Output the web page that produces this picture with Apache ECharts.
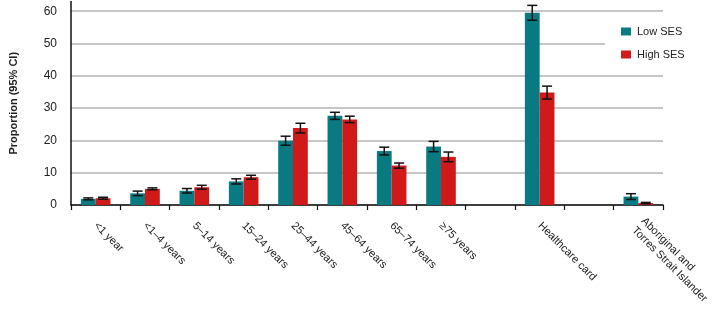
<!DOCTYPE html>
<html>
<head>
<meta charset="utf-8">
<script src="https://cdn.jsdelivr.net/npm/echarts@6/dist/echarts.min.js"></script>
<style>html,body{margin:0;padding:0;background:#fff;}#c{width:726px;height:319px;}</style>
</head>
<body>
<div id="c"></div>
<script>
const categories = ['<1 year', '<1\u20134 years', '5\u201314 years', '15\u201324 years', '25\u201344 years', '45\u201364 years', '65\u201374 years', '\u226575 years', '', 'Healthcare card', '', 'Aboriginal and\nTorres Strait Islander'];
const lowSES  = [1.9, 3.6, 4.4, 7.3, 19.9, 27.6, 16.7, 18.1, null, 59.5, null, 2.6];
const highSES = [2.1, 5.0, 5.5, 8.6, 23.8, 26.5, 12.2, 14.9, null, 34.8, null, 0.6];
const lowErr  = [0.3, 0.7, 0.7, 0.8, 1.4, 1.1, 1.2, 1.6, null, 2.3, null, 0.9];
const highErr = [0.3, 0.3, 0.6, 0.6, 1.5, 1.0, 0.8, 1.5, null, 2.0, null, 0.2];
const yTicks = { min: 0, max: 63, interval: 10 };

const FONT = '"Liberation Sans", Arial, sans-serif';
const TEAL = '#0a7a82';
const RED = '#d01a1a';

function errData(vals, errs) {
  const out = [];
  vals.forEach((v, i) => { if (v != null) out.push([i, v, errs[i]]); });
  return out;
}
function errRender(side) {
  return function (params, api) {
    const xi = api.value(0), v = api.value(1), e = api.value(2);
    const bw = api.size([1, 0])[0];
    const off = side * bw * 0.15;
    const lo = api.coord([xi, v - e]);
    const hi = api.coord([xi, v + e]);
    const x = lo[0] + off;
    const cap = 5;
    const style = { stroke: '#111', lineWidth: 1.5, fill: null };
    return {
      type: 'group',
      children: [
        { type: 'line', shape: { x1: x, y1: lo[1], x2: x, y2: hi[1] }, style },
        { type: 'line', shape: { x1: x - cap, y1: lo[1], x2: x + cap, y2: lo[1] }, style },
        { type: 'line', shape: { x1: x - cap, y1: hi[1], x2: x + cap, y2: hi[1] }, style }
      ]
    };
  };
}

const chart = echarts.init(document.getElementById('c'), null, { renderer: 'canvas' });
chart.setOption({
  animation: false,
  backgroundColor: '#fff',
  textStyle: { fontFamily: FONT },
  grid: { left: 71, right: 63, top: 1.5, bottom: 114 },
  legend: {
    data: ['Low SES', 'High SES'],
    orient: 'vertical',
    left: 605, top: 20,
    padding: [6, 12, 6, 16],
    backgroundColor: '#fff',
    itemWidth: 10, itemHeight: 8, itemGap: 12,
    textStyle: { fontFamily: FONT, fontSize: 11, color: '#222', padding: [0, 0, 0, 1] },
    icon: 'rect'
  },
  xAxis: {
    type: 'category',
    data: categories,
    axisLine: { lineStyle: { color: '#111', width: 1.5 } },
    axisTick: { show: true, length: 5, lineStyle: { color: '#111', width: 1.2 } },
    axisLabel: { interval: 0, rotate: -45, fontFamily: FONT, fontSize: 11, color: '#222', margin: 19, lineHeight: 13 }
  },
  yAxis: {
    type: 'value',
    min: yTicks.min, max: yTicks.max, interval: yTicks.interval,
    name: 'Proportion (95% CI)',
    nameLocation: 'middle',
    nameGap: 52,
    nameTextStyle: { fontFamily: FONT, fontSize: 11, fontWeight: 'bold', color: '#222' },
    axisLine: { show: true, lineStyle: { color: '#111', width: 1.5 } },
    axisTick: { show: false },
    axisLabel: { fontFamily: FONT, fontSize: 12, color: '#222', margin: 14, showMaxLabel: false },
    splitLine: { show: true, showMaxLine: false, lineStyle: { color: '#b4b4b4', width: 1.5 } }
  },
  series: [
    { name: 'Low SES', type: 'bar', data: lowSES, barWidth: '30%', barGap: '0%', itemStyle: { color: TEAL } },
    { name: 'High SES', type: 'bar', data: highSES, barWidth: '30%', barGap: '0%', itemStyle: { color: RED } },
    { name: 'errLow', type: 'custom', data: errData(lowSES, lowErr), renderItem: errRender(-1), encode: { x: 0, y: 1 }, z: 5 },
    { name: 'errHigh', type: 'custom', data: errData(highSES, highErr), renderItem: errRender(1), encode: { x: 0, y: 1 }, z: 5 }
  ]
});
</script>
</body>
</html>
